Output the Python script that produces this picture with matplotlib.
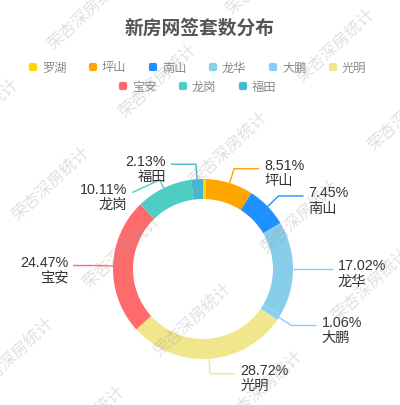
import numpy as np
import matplotlib
matplotlib.use('Agg')
import matplotlib.pyplot as plt
from matplotlib.patches import FancyBboxPatch

plt.rcParams['font.family'] = ['Noto Sans CJK SC', 'DejaVu Sans']
label_font = ['Liberation Sans', 'Noto Sans CJK SC']

title = '新房网签套数分布'
districts = ['罗湖', '坪山', '南山', '龙华', '大鹏', '光明', '宝安', '龙岗', '福田']
shares = [0.53, 8.51, 7.45, 17.02, 1.06, 28.72, 24.47, 10.11, 2.13]
colors = ['#FFD700', '#FFA500', '#1E90FF', '#87CEEB', '#87CEFA',
          '#F0E68C', '#FF6B6B', '#4ECDC4', '#45B7D1']
no_label = ['罗湖']
label_shift = {'龙岗': 18}   # label pushed down to avoid overlap (px)
watermark = '荣杏深房统计'

W, H = 400, 406
fig = plt.figure(figsize=(W / 100, H / 100), dpi=100)

# ring geometry in pixels
cx, cy, r, ring = 203, 270, 90, 20

ax = fig.add_axes([(cx - r) / W, (H - cy - r) / H, 2 * r / W, 2 * r / H])
wedges, _ = ax.pie(shares, colors=colors, startangle=90, counterclock=False,
                   radius=1, wedgeprops=dict(width=ring / r, linewidth=0))
ax.set_xlim(-1, 1)
ax.set_ylim(-1, 1)
ax.axis('off')

# overlay in pixel coords (y downward)
ov = fig.add_axes([0, 0, 1, 1])
ov.set_xlim(0, W)
ov.set_ylim(H, 0)
ov.axis('off')
ov.patch.set_alpha(0)

ov.text(200, 28, title, ha='center', va='center', fontsize=13.5,
        fontweight='bold', color='#555555')

# legend, 6 per row, centered
item_w = 60
rows = [list(range(0, 6)), list(range(6, len(districts)))]
for row_i, row in enumerate(rows):
    y = 68 + row_i * 19
    x0 = W / 2 - len(row) * item_w / 2
    for k, idx in enumerate(row):
        mx = x0 + k * item_w + 13
        ov.add_patch(FancyBboxPatch((mx - 3.5, y - 3.5), 7, 7,
                                    boxstyle='round,pad=0.6,rounding_size=2',
                                    fc=colors[idx], ec='none'))
        ov.text(mx + 9, y, districts[idx], ha='left', va='center',
                fontsize=8.8, color='#888888')

# labels with leader lines
len1, len2, gap = 15, 25, 5
for w, name, v, c in zip(wedges, districts, shares, colors):
    if name in no_label:
        continue
    a = np.deg2rad((w.theta1 + w.theta2) / 2)
    dx, dy = np.cos(a), -np.sin(a)
    sx, sy = cx + r * dx, cy + r * dy
    side = 1 if dx >= 0 else -1
    shift = label_shift.get(name, 0)
    if shift:
        ex, ey = sx + 9 * dx, sy + 9 * dy
        tx = sx + len1 * dx + side * len2
        ty = sy + len1 * dy + shift
    else:
        ex, ey = sx + len1 * dx, sy + len1 * dy
        tx, ty = ex + side * len2, ey
    ov.plot([sx, ex, tx], [sy, ey, ty], color=c, lw=1, solid_capstyle='butt')
    ov.text(tx + side * gap, ty + 4, f'{v:.2f}%\n{name}',
            ha='left' if side > 0 else 'right', va='center',
            multialignment='left' if side > 0 else 'right',
            fontsize=10.3, color='#333333', linespacing=1.1,
            family=label_font)

# watermark lattice
ox, oy = 122, 252
a_vec = (71, 68)
b_vec = (178, -35)
for i in range(-5, 6):
    for j in range(-3, 4):
        x = ox + i * a_vec[0] + j * b_vec[0]
        y = oy + i * a_vec[1] + j * b_vec[1]
        if -60 < x < W + 60 and -60 < y < H + 60:
            ov.text(x, y, watermark, ha='center', va='center', rotation=43,
                    rotation_mode='anchor', fontsize=12, color='#999999',
                    alpha=0.3, zorder=10)

fig.savefig('out.png', dpi=100)
